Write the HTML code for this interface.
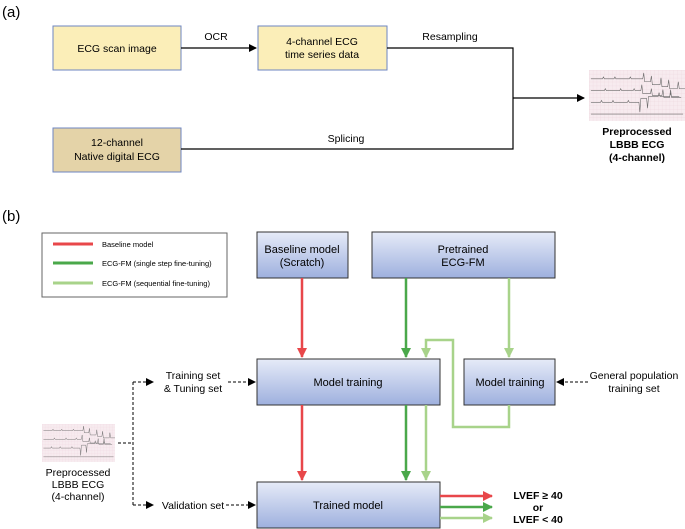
<!DOCTYPE html>
<html><head><meta charset="utf-8"><style>
body{margin:0;background:#fff}
svg{display:block;font-family:"Liberation Sans",sans-serif}
</style></head><body>
<svg width="685" height="529" viewBox="0 0 685 529" xmlns="http://www.w3.org/2000/svg">
<defs>
<linearGradient id="bl" x1="0" y1="0" x2="0" y2="1"><stop offset="0" stop-color="#e6ebf8"/><stop offset="1" stop-color="#9eb0de"/></linearGradient>
<marker id="ak" markerWidth="8" markerHeight="8" refX="7" refY="4" orient="auto" markerUnits="userSpaceOnUse"><path d="M0,0 L8,4 L0,8z" fill="#000"/></marker>
<marker id="ar" markerWidth="10" markerHeight="10" refX="9" refY="5" orient="auto" markerUnits="userSpaceOnUse"><path d="M0,0 L10,5 L0,10z" fill="#e8474a"/></marker>
<marker id="ag" markerWidth="10" markerHeight="10" refX="9" refY="5" orient="auto" markerUnits="userSpaceOnUse"><path d="M0,0 L10,5 L0,10z" fill="#4aa84a"/></marker>
<marker id="al" markerWidth="10" markerHeight="10" refX="9" refY="5" orient="auto" markerUnits="userSpaceOnUse"><path d="M0,0 L10,5 L0,10z" fill="#a8d38a"/></marker>
<pattern id="grid" width="4" height="4" patternUnits="userSpaceOnUse">
<rect width="4" height="4" fill="#f7ebef"/><path d="M0,0 H4 M0,0 V4" stroke="#ecd3dc" stroke-width="0.5"/>
</pattern>
<g id="ecg">
<rect width="100" height="52" fill="url(#grid)"/>
<path d="M2,9 h12 l1,-2 l1,2 h10 l1,-2 l1,2 h14 l1,-2 l1,2 h12 l1,-6 l1,9 h6 l1,-6 l1,9 h8 l1,-7 l1,9 h6 l1,-7 l1,9 h8 l1,-7 l1,7 h6
M2,21 h14 l1,-2 l1,2 h14 l1,-2 l1,2 h12 l1,-2 l1,2 h6 l1,-6 l1,9 h8 l1,-5 l1,7 h10 l1,-6 l1,8 h6 l1,-8 l1,8 h10
M2,33 h10 l1,-2 l1,2 h10 l1,-2 l1,2 h14 l1,-2 l1,2 h10 l1,10 l1,-14 h6 l1,10 l1,-12 h10 l1,-4 l1,4 h10 l1,-3 l1,3 h8
M2,45 h96" stroke="#6a6a6a" stroke-width="0.6" fill="none"/>
</g>
</defs>
<text x="2" y="17" font-size="15">(a)</text>
<rect x="53" y="26" width="128" height="44" fill="#fbeeb8" stroke="#6e86c2" stroke-width="1"/>
<text x="117" y="52" font-size="10.5" text-anchor="middle">ECG scan image</text>
<rect x="258" y="26" width="129" height="44" fill="#fbeeb8" stroke="#6e86c2" stroke-width="1"/>
<text x="322" y="45" font-size="10.5" text-anchor="middle">4-channel ECG</text>
<text x="322" y="58" font-size="10.5" text-anchor="middle">time series data</text>
<rect x="53" y="128" width="128" height="44" fill="#e4d3a8" stroke="#6e86c2" stroke-width="1"/>
<text x="117" y="146" font-size="10.5" text-anchor="middle">12-channel</text>
<text x="117" y="160" font-size="10.5" text-anchor="middle">Native digital ECG</text>
<line x1="181" y1="48" x2="256" y2="48" stroke="#000" stroke-width="1.2" marker-end="url(#ak)"/>
<text x="216" y="40" font-size="10.5" text-anchor="middle">OCR</text>
<polyline points="387,48 513,48 513,149 181,149" fill="none" stroke="#000" stroke-width="1.2"/>
<text x="450" y="40" font-size="10.5" text-anchor="middle">Resampling</text>
<text x="346" y="142" font-size="10.5" text-anchor="middle">Splicing</text>
<line x1="513" y1="98" x2="584" y2="98" stroke="#000" stroke-width="1.2" marker-end="url(#ak)"/>
<use href="#ecg" transform="translate(589,70) scale(0.96,0.98)"/>
<text x="637" y="135" font-size="10.5" font-weight="bold" text-anchor="middle">Preprocessed</text>
<text x="637" y="148" font-size="10.5" font-weight="bold" text-anchor="middle">LBBB ECG</text>
<text x="637" y="161" font-size="10.5" font-weight="bold" text-anchor="middle">(4-channel)</text>

<text x="2" y="221" font-size="15">(b)</text>
<rect x="42" y="233" width="185" height="64" fill="#fff" stroke="#666" stroke-width="1"/>
<line x1="53" y1="244" x2="93" y2="244" stroke="#e8474a" stroke-width="3"/>
<line x1="53" y1="263" x2="93" y2="263" stroke="#4aa84a" stroke-width="3"/>
<line x1="53" y1="283" x2="93" y2="283" stroke="#a8d38a" stroke-width="3"/>
<text x="102" y="247" font-size="7.5">Baseline model</text>
<text x="102" y="266" font-size="7.5">ECG-FM (single step fine-tuning)</text>
<text x="102" y="286" font-size="7.5">ECG-FM (sequential fine-tuning)</text>

<g stroke="#333" stroke-width="1" fill="url(#bl)">
<rect x="257" y="232" width="91" height="46"/>
<rect x="372" y="232" width="183" height="46"/>
<rect x="257" y="359" width="183" height="46"/>
<rect x="464" y="359" width="91" height="46"/>
<rect x="257" y="482" width="183" height="46"/>
</g>
<g font-size="11" text-anchor="middle">
<text x="302" y="253">Baseline model</text><text x="302" y="266">(Scratch)</text>
<text x="463" y="253">Pretrained</text><text x="463" y="266">ECG-FM</text>
<text x="348" y="386">Model training</text>
<text x="510" y="386">Model training</text>
<text x="348" y="509">Trained model</text>
</g>
<g stroke-width="2.5" fill="none">
<line x1="302" y1="278" x2="302" y2="357" stroke="#e8474a" marker-end="url(#ar)"/>
<line x1="406" y1="278" x2="406" y2="357" stroke="#4aa84a" marker-end="url(#ag)"/>
<line x1="509" y1="278" x2="509" y2="357" stroke="#a8d38a" marker-end="url(#al)"/>
<polyline points="509,405 509,427 453,427 453,340 426,340 426,357" stroke="#a8d38a" marker-end="url(#al)"/>
<line x1="302" y1="405" x2="302" y2="480" stroke="#e8474a" marker-end="url(#ar)"/>
<line x1="406" y1="405" x2="406" y2="480" stroke="#4aa84a" marker-end="url(#ag)"/>
<line x1="426" y1="405" x2="426" y2="480" stroke="#a8d38a" marker-end="url(#al)"/>
<line x1="440" y1="496" x2="492" y2="496" stroke="#e8474a" marker-end="url(#ar)"/>
<line x1="440" y1="507" x2="492" y2="507" stroke="#4aa84a" marker-end="url(#ag)"/>
<line x1="440" y1="518" x2="492" y2="518" stroke="#a8d38a" marker-end="url(#al)"/>
</g>
<g font-size="10.5" font-weight="bold" text-anchor="middle">
<text x="538" y="499">LVEF ≥ 40</text><text x="538" y="511">or</text><text x="538" y="523">LVEF &lt; 40</text>
</g>
<use href="#ecg" transform="translate(42,424) scale(0.73,0.73)"/>
<g font-size="10.5" text-anchor="middle">
<text x="78" y="476">Preprocessed</text><text x="78" y="488">LBBB ECG</text><text x="78" y="500">(4-channel)</text>
<text x="193" y="379">Training set</text><text x="193" y="392">&amp; Tuning set</text>
<text x="193" y="509">Validation set</text>
<text x="634" y="379">General population</text><text x="634" y="392">training set</text>
</g>
<g stroke="#000" stroke-width="1" stroke-dasharray="3,2" fill="none">
<line x1="118" y1="443" x2="133" y2="443"/>
<polyline points="133,382 133,505"/>
<line x1="133" y1="382" x2="153" y2="382" marker-end="url(#ak)"/>
<line x1="133" y1="505" x2="153" y2="505" marker-end="url(#ak)"/>
<line x1="228" y1="382" x2="255" y2="382" marker-end="url(#ak)"/>
<line x1="226" y1="505" x2="255" y2="505" marker-end="url(#ak)"/>
<line x1="588" y1="382" x2="557" y2="382" marker-end="url(#ak)"/>
</g>
</svg>
</body></html>
